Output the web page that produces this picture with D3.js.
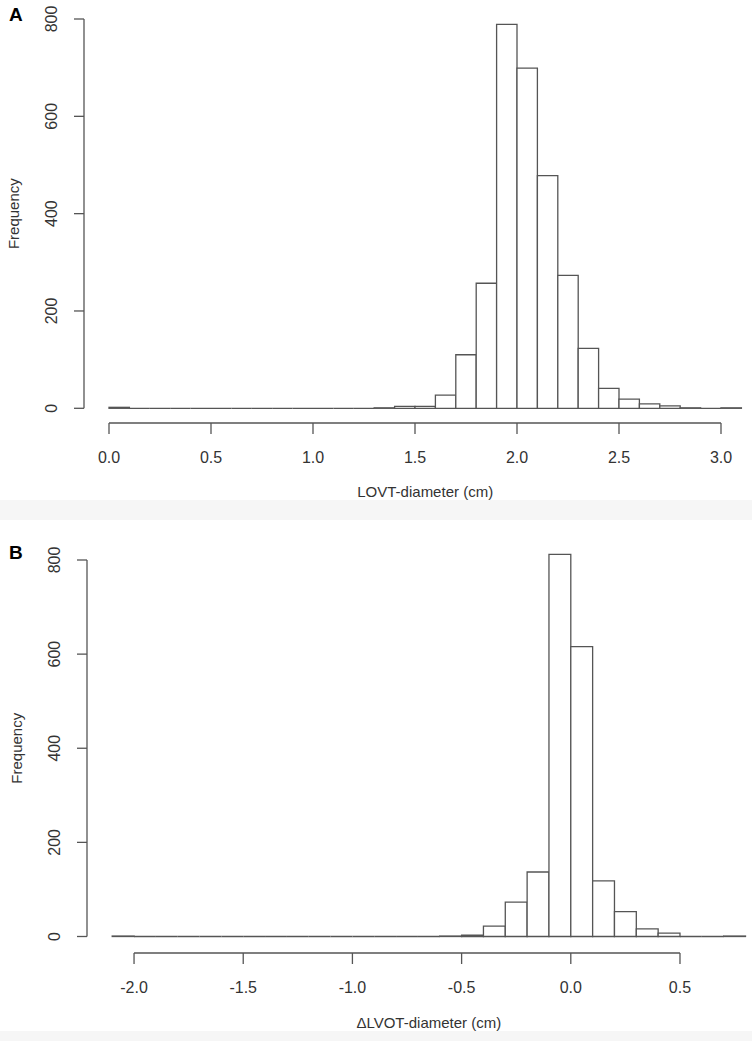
<!DOCTYPE html>
<html>
<head>
<meta charset="utf-8">
<script src="https://cdn.jsdelivr.net/npm/d3@7"></script>
<style>
  html, body { margin: 0; padding: 0; background: #ffffff; }
  svg { display: block; }
  text { font-family: "Liberation Sans", Arial, Helvetica, sans-serif; fill: #333; }
</style>
</head>
<body>
<svg id="chart" width="752" height="1041"></svg>
<script>
// ---------- Data ----------
// Panel A: LOVT-diameter histogram, bins of width 0.1 cm
const binStartsA = [0.0, 0.1, 0.2, 0.3, 0.4, 0.5, 0.6, 0.7, 0.8, 0.9,
                    1.0, 1.1, 1.2, 1.3, 1.4, 1.5, 1.6, 1.7, 1.8, 1.9,
                    2.0, 2.1, 2.2, 2.3, 2.4, 2.5, 2.6, 2.7, 2.8, 2.9, 3.0];
const countsA    = [2, 0, 0, 0, 0, 0, 0, 0, 0, 0,
                    0, 0, 0, 1, 4, 4, 27, 110, 257, 789,
                    699, 478, 273, 123, 41, 19, 9, 5, 1, 0, 1];
const xTicksA = [0.0, 0.5, 1.0, 1.5, 2.0, 2.5, 3.0];
const yTicks  = [0, 200, 400, 600, 800];

// Panel B: delta LVOT-diameter histogram, bins of width 0.1 cm
const binStartsB = [-2.1, -2.0, -1.9, -1.8, -1.7, -1.6, -1.5, -1.4, -1.3, -1.2,
                    -1.1, -1.0, -0.9, -0.8, -0.7, -0.6, -0.5, -0.4, -0.3, -0.2,
                    -0.1, 0.0, 0.1, 0.2, 0.3, 0.4, 0.5, 0.6, 0.7];
const countsB    = [1, 0, 0, 0, 0, 0, 0, 0, 0, 0,
                    0, 0, 0, 0, 0, 1, 3, 22, 73, 137,
                    812, 616, 118, 53, 16, 7, 0, 0, 1];
const xTicksB = [-2.0, -1.5, -1.0, -0.5, 0.0, 0.5];

const binWidth = 0.1;

// ---------- Drawing ----------
const svg = d3.select("#chart");
const stroke = "#555555";
const fmt = d3.format(".1f");

// faint grey strips at the bottom of each panel image
svg.append("rect").attr("x", 0).attr("y", 500).attr("width", 752).attr("height", 20).attr("fill", "#f6f6f6");
svg.append("rect").attr("x", 0).attr("y", 1031).attr("width", 752).attr("height", 10).attr("fill", "#f6f6f6");

function panel(opts) {
  const { starts, counts, xTicks, xDomain, xRange, yRange, yAxisX, xAxisY,
          yLabelX, xLabelY, xTitle, xTitleY, yTitleX, letter, letterY } = opts;
  const x = d3.scaleLinear().domain(xDomain).range(xRange);
  const y = d3.scaleLinear().domain([0, 800]).range(yRange);
  const g = svg.append("g");

  // bars (drawn as closed paths so that empty bins still show as a baseline)
  const bins = starts.map((s, i) => ({ x0: s, x1: s + binWidth, n: counts[i] }));
  g.selectAll("path.bar").data(bins).join("path")
    .attr("class", "bar")
    .attr("d", d => {
      const p = d3.path();
      p.moveTo(x(d.x0), y(0));
      p.lineTo(x(d.x0), y(d.n));
      p.lineTo(x(d.x1), y(d.n));
      p.lineTo(x(d.x1), y(0));
      p.closePath();
      return p.toString();
    })
    .attr("fill", "#ffffff")
    .attr("stroke", stroke)
    .attr("stroke-width", 1.3);

  // y axis
  const ya = g.append("g");
  ya.append("line")
    .attr("x1", yAxisX).attr("x2", yAxisX)
    .attr("y1", y(yTicks[0])).attr("y2", y(yTicks[yTicks.length - 1]))
    .attr("stroke", stroke).attr("stroke-width", 1.3);
  ya.selectAll("line.tick").data(yTicks).join("line")
    .attr("class", "tick")
    .attr("x1", yAxisX - 10).attr("x2", yAxisX)
    .attr("y1", d => y(d)).attr("y2", d => y(d))
    .attr("stroke", stroke).attr("stroke-width", 1.3);
  ya.selectAll("text").data(yTicks).join("text")
    .attr("transform", d => `translate(${yLabelX},${y(d)}) rotate(-90)`)
    .attr("text-anchor", "middle")
    .attr("font-size", 16)
    .text(d => d);

  // x axis
  const xa = g.append("g");
  xa.append("line")
    .attr("x1", x(xTicks[0])).attr("x2", x(xTicks[xTicks.length - 1]))
    .attr("y1", xAxisY).attr("y2", xAxisY)
    .attr("stroke", stroke).attr("stroke-width", 1.3);
  xa.selectAll("line.tick").data(xTicks).join("line")
    .attr("class", "tick")
    .attr("x1", d => x(d)).attr("x2", d => x(d))
    .attr("y1", xAxisY).attr("y2", xAxisY + 11)
    .attr("stroke", stroke).attr("stroke-width", 1.3);
  xa.selectAll("text").data(xTicks).join("text")
    .attr("x", d => x(d))
    .attr("y", xLabelY)
    .attr("text-anchor", "middle")
    .attr("font-size", 16)
    .text(d => fmt(d).replace("\u2212", "-"));

  // titles
  g.append("text")
    .attr("x", (xRange[0] + xRange[1]) / 2)
    .attr("y", xTitleY)
    .attr("text-anchor", "middle")
    .attr("font-size", 15)
    .text(xTitle);
  g.append("text")
    .attr("transform", `translate(${yTitleX},${(yRange[0] + yRange[1]) / 2}) rotate(-90)`)
    .attr("text-anchor", "middle")
    .attr("font-size", 15)
    .text("Frequency");
  g.append("text")
    .attr("x", 9).attr("y", letterY)
    .attr("font-size", 19)
    .attr("font-weight", "bold")
    .style("fill", "#000")
    .text(letter);
}

panel({
  starts: binStartsA, counts: countsA, xTicks: xTicksA,
  xDomain: [0, 3.1], xRange: [109, 741.4], yRange: [408.3, 19],
  yAxisX: 84, xAxisY: 423, yLabelX: 57, xLabelY: 463,
  xTitle: "LOVT-diameter (cm)", xTitleY: 497, yTitleX: 19,
  letter: "A", letterY: 21
});

panel({
  starts: binStartsB, counts: countsB, xTicks: xTicksB,
  xDomain: [-2.1, 0.8], xRange: [112.2, 745.5], yRange: [936.5, 560],
  yAxisX: 87, xAxisY: 953, yLabelX: 60, xLabelY: 993,
  xTitle: "\u0394LVOT-diameter (cm)", xTitleY: 1028, yTitleX: 22,
  letter: "B", letterY: 559
});
</script>
</body>
</html>
